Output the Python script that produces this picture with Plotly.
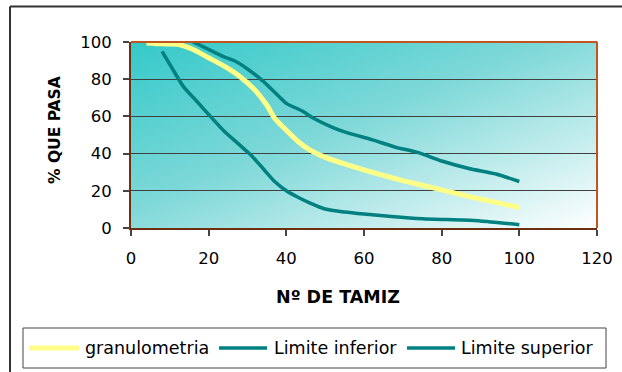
import base64
import plotly.graph_objects as go

# ---- data ----
gran_x = [4, 8, 12, 16, 20, 24, 28, 32, 35, 37, 40, 43, 46, 50, 55, 62, 70, 80, 88, 100]
gran_y = [99.5, 99, 98.8, 96, 91.5, 87, 81.5, 74, 66, 59, 52.5, 46.5, 42, 38, 34.5, 30, 25.5, 20.5, 16.5, 11]

inf_x = [8, 10, 13.5, 17, 20, 24, 27.5, 31, 34, 37, 40, 43, 46, 50, 55, 60, 67, 75, 85, 90, 100]
inf_y = [95, 88, 76, 68, 61, 52, 45.5, 39, 32, 25, 20, 16.5, 13.5, 10.2, 8.6, 7.5, 6.2, 5, 4.3, 3.8, 1.8]

sup_x = [16, 20, 24, 27, 30, 34, 37, 40, 44, 47, 52, 56, 62, 68, 74, 80, 87, 94, 100]
sup_y = [100, 96, 92, 89.5, 85.5, 79, 73, 67, 63, 59, 54, 51, 47.5, 43.5, 40.5, 36, 32, 29, 25]

series_names = ["granulometria", "Limite inferior", "Limite superior"]
x_ticks = [0, 20, 40, 60, 80, 100, 120]
y_ticks = [0, 20, 40, 60, 80, 100]

# ---- layout geometry ----
W, H = 622, 372
ML, MR, MT, MB = 131, 25, 42, 144
PW, PH = W - ML - MR, H - MT - MB


def px(p):
    return (p - ML) / PW


def py(p):
    return (H - MB - p) / PH


YELLOW = "#FFFF88"
TEAL = "#008080"
FONT = "DejaVu Sans"

fig = go.Figure()
fig.add_trace(go.Scatter(x=gran_x, y=gran_y, mode="lines", name=series_names[0],
                         line=dict(color=YELLOW, width=5, shape="spline", smoothing=0.6)))
fig.add_trace(go.Scatter(x=inf_x, y=inf_y, mode="lines", name=series_names[1],
                         line=dict(color=TEAL, width=3.5, shape="spline", smoothing=0.6)))
fig.add_trace(go.Scatter(x=sup_x, y=sup_y, mode="lines", name=series_names[2],
                         line=dict(color=TEAL, width=3.5, shape="spline", smoothing=0.6)))

# gradient background as svg image
svg = ('<svg xmlns="http://www.w3.org/2000/svg" width="100" height="100" viewBox="0 0 100 100" '
       'preserveAspectRatio="none"><defs><linearGradient id="g" x1="0" y1="0" x2="1" y2="1">'
       '<stop offset="0" stop-color="#34C9C9"/><stop offset="0.45" stop-color="#7FD8D8"/>'
       '<stop offset="1" stop-color="#FFFFFF"/>'
       '</linearGradient></defs><rect width="100" height="100" fill="url(#g)"/></svg>')
src = "data:image/svg+xml;base64," + base64.b64encode(svg.encode()).decode()
fig.add_layout_image(dict(source=src, xref="paper", yref="paper", x=0, y=1, sizex=1, sizey=1,
                          sizing="stretch", xanchor="left", yanchor="top", layer="below"))

shapes = []
# plot top/right border
shapes.append(dict(type="line", xref="paper", yref="paper", x0=0, y0=1, x1=1, y1=1,
                   line=dict(color="#C0561E", width=2)))
shapes.append(dict(type="line", xref="paper", yref="paper", x0=1, y0=0, x1=1, y1=1,
                   line=dict(color="#C0561E", width=2)))
# outer chart border (left and top visible)
shapes.append(dict(type="line", xref="paper", yref="paper", x0=px(10), y0=py(6.5), x1=px(10), y1=py(373),
                   line=dict(color="#333333", width=2)))
shapes.append(dict(type="line", xref="paper", yref="paper", x0=px(10), y0=py(6.5), x1=px(623), y1=py(6.5),
                   line=dict(color="#333333", width=2)))
# legend box
shapes.append(dict(type="rect", xref="paper", yref="paper", x0=px(23), y0=py(368), x1=px(606), y1=py(328),
                   line=dict(color="#444444", width=1), fillcolor="white"))
leg_y = 348
sym = [(29, 79, YELLOW, 5), (219, 267, TEAL, 3.5), (407, 455, TEAL, 3.5)]
for x0, x1, c, w in sym:
    shapes.append(dict(type="line", xref="paper", yref="paper", x0=px(x0), y0=py(leg_y), x1=px(x1), y1=py(leg_y),
                       line=dict(color=c, width=w)))

annotations = []
for name, tx in zip(series_names, [83, 272, 459]):
    annotations.append(dict(text=name, xref="paper", yref="paper", x=px(tx), y=py(leg_y),
                            xanchor="left", yanchor="middle", showarrow=False,
                            font=dict(family=FONT, size=17.5, color="black")))
annotations.append(dict(text="<b>Nº DE TAMIZ</b>", xref="paper", yref="paper", x=px(338), y=py(297),
                        xanchor="center", yanchor="middle", showarrow=False,
                        font=dict(family=FONT, size=17.5, color="black")))
annotations.append(dict(text="<b>% QUE PASA</b>", xref="paper", yref="paper", x=px(55), y=py(130),
                        xanchor="center", yanchor="middle", showarrow=False, textangle=-90,
                        font=dict(family=FONT, size=15.5, color="black")))

fig.update_layout(
    width=W, height=H,
    margin=dict(l=ML, r=MR, t=MT, b=MB, autoexpand=False),
    paper_bgcolor="white", plot_bgcolor="rgba(0,0,0,0)",
    showlegend=False,
    shapes=shapes, annotations=annotations,
    font=dict(family=FONT, size=16.5, color="black"),
)
fig.update_xaxes(range=[0, 120], tickvals=x_ticks, ticks="outside", ticklen=6, tickwidth=1.5,
                 tickcolor="#444444", showgrid=False, zeroline=False, showline=True,
                 linecolor="#6E2E12", linewidth=2, ticklabelstandoff=8,
                 tickfont=dict(family=FONT, size=16.5, color="black"))
fig.update_yaxes(range=[0, 100], tickvals=y_ticks, ticks="outside", ticklen=6, tickwidth=1.5,
                 tickcolor="#444444", showgrid=True, gridcolor="#404040", gridwidth=1,
                 zeroline=False, showline=True, linecolor="#6E2E12", linewidth=2,
                 ticklabelstandoff=8, tickfont=dict(family=FONT, size=16.5, color="black"))

fig.write_html("out.html")
